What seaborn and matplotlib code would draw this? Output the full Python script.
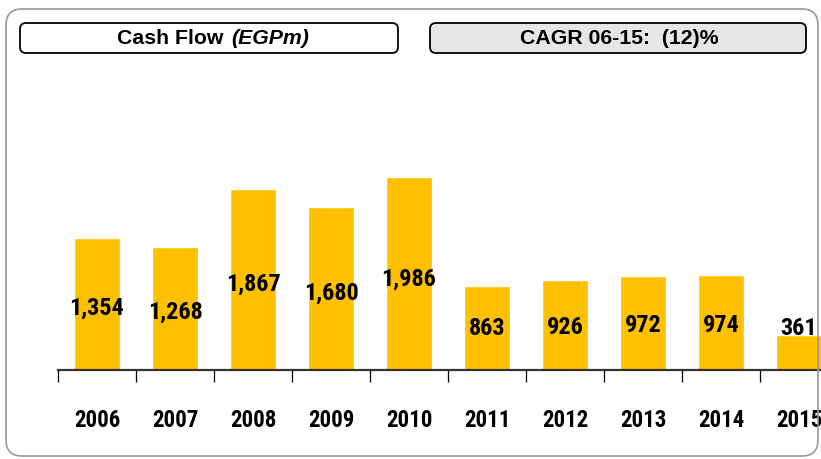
import matplotlib
matplotlib.use("Agg")
import matplotlib.pyplot as plt
from matplotlib import font_manager
from matplotlib.patches import FancyBboxPatch
import pandas as pd
import seaborn as sns

# data
years = ["2006", "2007", "2008", "2009", "2010", "2011", "2012", "2013", "2014", "2015"]
cash_flow = [1354, 1268, 1867, 1680, 1986, 863, 926, 972, 974, 361]
value_labels = ["1,354", "1,268", "1,867", "1,680", "1,986", "863", "926", "972", "974", "361"]

# pick a narrow font if one is installed
names = set(f.name for f in font_manager.fontManager.ttflist)
narrow = None
for cand in ["Liberation Sans Narrow", "Arial Narrow", "Roboto Condensed", "DejaVu Sans Condensed"]:
    if cand in names:
        narrow = cand
        break
if narrow is None:
    narrow = "Liberation Sans"
num_size = 17 if "Narrow" in narrow or "Condensed" in narrow else 14

sns.set_style("white")
plt.rcParams["font.family"] = ["Liberation Sans", "DejaVu Sans"]
plt.rcParams["text.color"] = "black"
plt.rcParams["xtick.color"] = "black"

df = pd.DataFrame({"year": years, "cash": cash_flow})

W, H = 821, 459
fig = plt.figure(figsize=(W / 100, H / 100), dpi=100)
px = fig.dpi_scale_trans

# outer rounded frame
fig.patches.append(FancyBboxPatch((0.06, 0.03), 8.12, 4.47,
                                  boxstyle="round,pad=0,rounding_size=0.16",
                                  fc="none", ec="#9a9a9a", lw=1.2,
                                  transform=px, figure=fig, zorder=0))

# header boxes
for x0, x1, fc in [(20, 398, "white"), (430, 806, "#e6e6e6")]:
    fig.patches.append(FancyBboxPatch((x0 / 100, (H - 53) / 100), (x1 - x0) / 100, 0.30,
                                      boxstyle="round,pad=0,rounding_size=0.06",
                                      fc=fc, ec="black", lw=1.3,
                                      transform=px, figure=fig, zorder=1))
fig.text(2.235, (H - 39) / 100, "Cash Flow", transform=px, ha="right", va="center",
         fontsize=15.3, fontweight="bold", color="black")
fig.text(2.31, (H - 39) / 100, "(EGPm)", transform=px, ha="left", va="center",
         fontsize=15.3, fontweight="bold", fontstyle="italic", color="black")
fig.text(6.195, (H - 39) / 100, "CAGR 06-15:  (12)%", transform=px, ha="center", va="center",
         fontsize=15.3, fontweight="bold", color="black")

# bars
ax = fig.add_axes([58 / W, (H - 370) / H, 780 / W, 291.6 / H])
ax.patch.set_alpha(0)
sns.barplot(data=df, x="year", y="cash", color="#FFC000", saturation=1, width=0.59, ax=ax)
ax.set_xlim(-0.5, 9.5)
ax.set_ylim(0, 3000)

for i, v in enumerate(cash_flow):
    ax.text(i, max(v * 0.47, 430), value_labels[i], ha="center", va="center",
            fontsize=num_size + 0.5, fontweight="bold", family=[narrow, "DejaVu Sans"], color="black")

sns.despine(ax=ax, left=True)
ax.spines["bottom"].set_color("#333333")
ax.spines["bottom"].set_linewidth(1.6)
ax.set_yticks([])
ax.set_xlabel("")
ax.set_ylabel("")
ax.set_xticks([i - 0.5 for i in range(11)], minor=True)
ax.tick_params(axis="x", which="minor", bottom=True, length=8.5, width=0.9,
               color="black", direction="out")
ax.tick_params(axis="x", which="major", bottom=True, length=0, pad=28)
for lab in ax.get_xticklabels():
    lab.set_fontsize(num_size - 0.5)
    lab.set_fontweight("bold")
    lab.set_family([narrow, "DejaVu Sans"])
    lab.set_color("black")

fig.savefig("out.png", dpi=100)
